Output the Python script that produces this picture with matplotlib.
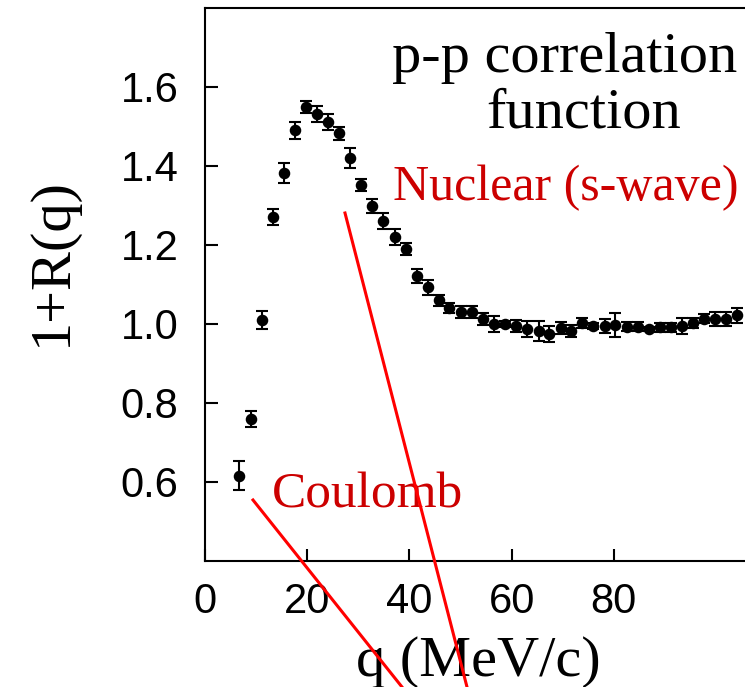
import numpy as np
import matplotlib
matplotlib.use('Agg')
import matplotlib.pyplot as plt
from matplotlib.lines import Line2D

# p-p correlation function
q = [6.7, 9.0, 11.2, 13.3, 15.5, 17.6, 19.7, 21.9, 24.1, 26.3, 28.4, 30.6,
     32.7, 34.9, 37.1, 39.4, 41.5, 43.7, 45.8, 47.8, 50.0, 52.2, 54.4, 56.5,
     58.7, 60.9, 63.1, 65.3, 67.4, 69.6, 71.7, 73.8, 76.0, 78.2, 80.3, 82.5,
     84.7, 86.8, 89.1, 91.2, 93.3, 95.5, 97.6, 99.8, 102.0, 104.1]
corr = [0.616, 0.759, 1.010, 1.270, 1.381, 1.489, 1.549, 1.530, 1.510, 1.482,
        1.420, 1.351, 1.298, 1.260, 1.219, 1.190, 1.120, 1.092, 1.059, 1.040,
        1.029, 1.030, 1.012, 0.999, 0.999, 0.995, 0.987, 0.981, 0.974, 0.989,
        0.981, 1.002, 0.995, 0.995, 0.997, 0.993, 0.993, 0.987, 0.991, 0.991,
        0.995, 1.002, 1.013, 1.012, 1.012, 1.021]
err = [0.036, 0.020, 0.022, 0.020, 0.026, 0.022, 0.015, 0.020, 0.020, 0.016,
       0.025, 0.015, 0.018, 0.020, 0.020, 0.015, 0.018, 0.018, 0.015, 0.012,
       0.015, 0.015, 0.015, 0.020, 0.008, 0.015, 0.020, 0.025, 0.020, 0.015,
       0.015, 0.012, 0.008, 0.018, 0.030, 0.012, 0.012, 0.006, 0.012, 0.012,
       0.020, 0.012, 0.012, 0.018, 0.018, 0.020]

xticks = [0, 20, 40, 60, 80]
yticks = [0.6, 0.8, 1.0, 1.2, 1.4, 1.6]

W, H = 745, 687
fig = plt.figure(figsize=(W / 100, H / 100), dpi=100)
# axes runs past the right edge of the picture, like the cropped original
x0, x1 = 0, 120
left, bottom, top = 205 / W, 1 - 561 / H, 1 - 7.5 / H
width = (x1 - x0) * 5.11 / W
ax = fig.add_axes([left, bottom, width, top - bottom])

ax.errorbar(q, corr, yerr=err, fmt='o', color='black', ms=7.3,
            elinewidth=1.5, capsize=4, capthick=1.5)

ax.set_xlim(x0, x1)
ax.set_ylim(0.4, 1.8)
ax.set_xticks(xticks)
ax.set_yticks(yticks)
ax.set_yticklabels([f'{v:.1f}' for v in yticks])
ax.tick_params(direction='in', length=9, width=1.5,
               labelsize=30, labelfontfamily='Liberation Sans')
ax.tick_params(axis='y', pad=19)
ax.tick_params(axis='x', pad=15)
for s in ax.spines.values():
    s.set_linewidth(1.5)

axw = width * W
axh = 561 - 7.5
ax.set_xlabel('q (MeV/c)', family='Liberation Serif', fontsize=42)
ax.xaxis.set_label_coords((478 - 205) / axw, (561 - 676) / axh)
ax.xaxis.label.set_va('baseline')
ax.set_ylabel('1+R(q)', family='Liberation Serif', fontsize=42)
ax.yaxis.set_label_coords((78 - 205) / axw, (561 - 261) / axh)

serif = 'Liberation Serif'
fig.text(565 / W, 1 - 72 / H, 'p-p correlation', family=serif, fontsize=42,
         ha='center', va='baseline')
fig.text(584 / W, 1 - 128 / H, 'function', family=serif, fontsize=42,
         ha='center', va='baseline')
fig.text(393 / W, 1 - 200 / H, 'Nuclear (s-wave)', family=serif, fontsize=36,
         color='#cc0000', ha='left', va='baseline')
fig.text(272 / W, 1 - 508 / H, 'Coulomb', family=serif, fontsize=37,
         color='#cc0000', ha='left', va='baseline')

# red pointer lines that run off the bottom of the picture
fig.add_artist(Line2D([345 / W, 467 / W], [1 - 213 / H, 0], color='red',
                      lw=2.2, transform=fig.transFigure, zorder=10))
fig.add_artist(Line2D([253 / W, 402 / W], [1 - 500 / H, 0], color='red',
                      lw=2.2, transform=fig.transFigure, zorder=10))

fig.savefig('out.png', dpi=100)
